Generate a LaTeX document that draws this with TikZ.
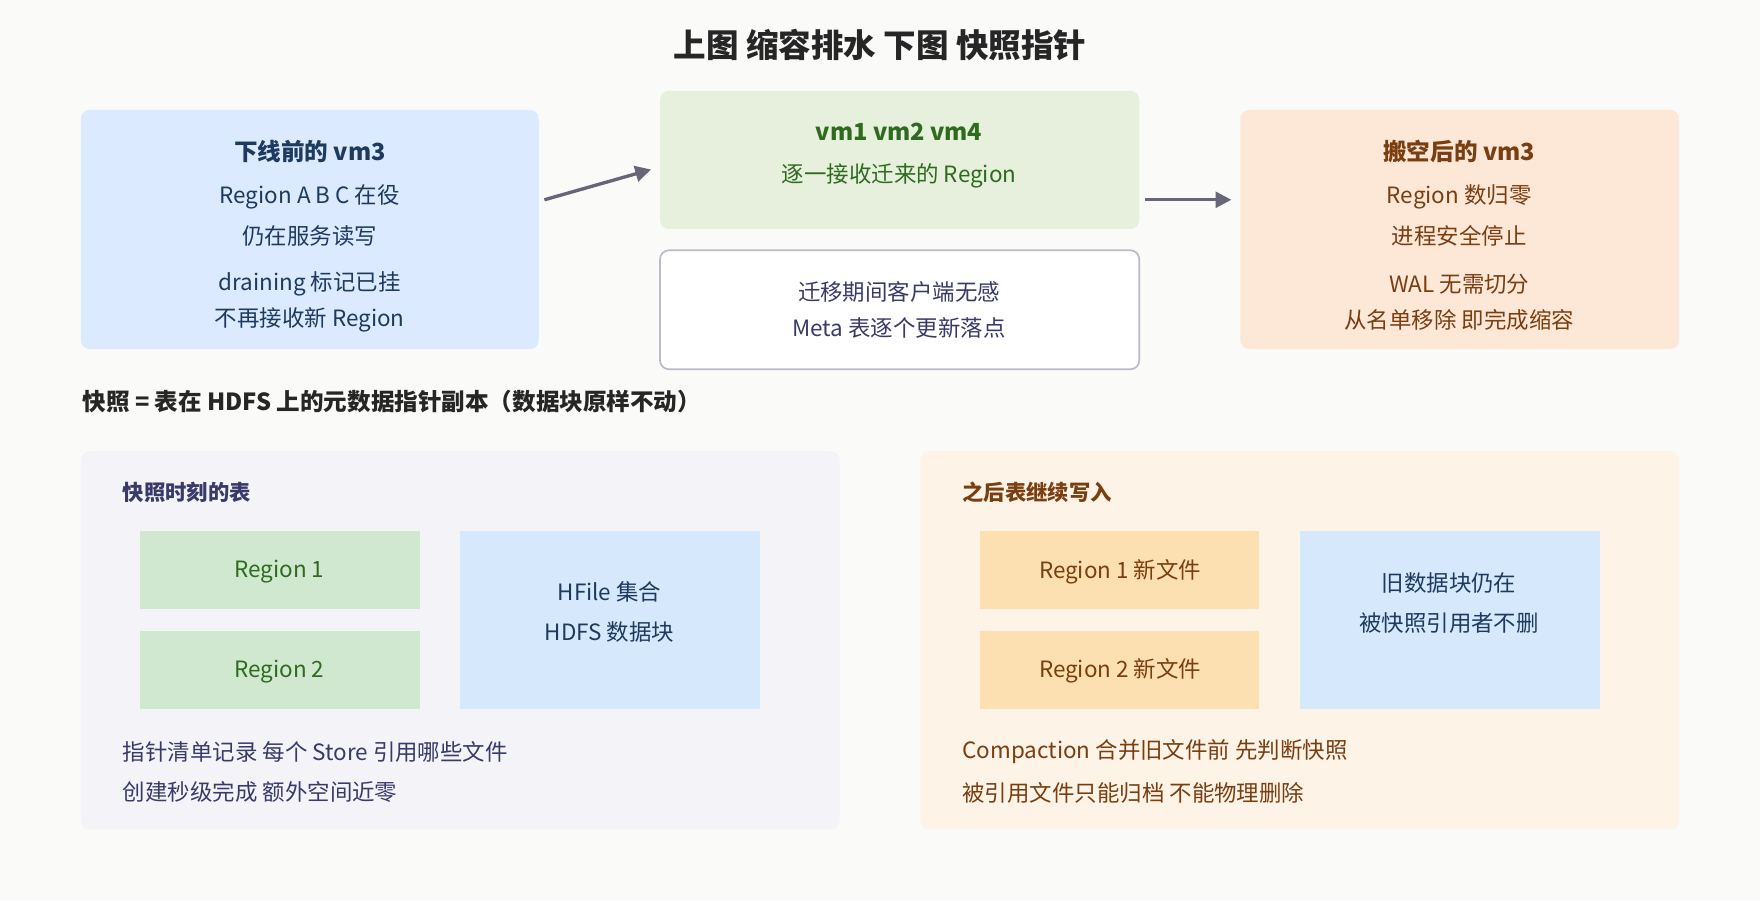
\documentclass[tikz,border=0pt]{standalone}
\usepackage{fontspec}
\setmainfont{Noto Sans CJK SC}
\usetikzlibrary{arrows.meta}
\definecolor{bg}{HTML}{FAFAF8}
\definecolor{bluef}{HTML}{DBEAFE}
\definecolor{greenf}{HTML}{E6F0DC}
\definecolor{orangef}{HTML}{FDE8D7}
\definecolor{navy}{HTML}{1E3A5F}
\definecolor{gtxt}{HTML}{2E6B1E}
\definecolor{btxt}{HTML}{7A3E10}
\definecolor{ptxt}{HTML}{3A3A6A}
\definecolor{panelL}{HTML}{F3F3F8}
\definecolor{panelR}{HTML}{FDF3E6}
\definecolor{regG}{HTML}{CFE8CF}
\definecolor{regO}{HTML}{FDE0B2}
\definecolor{hblue}{HTML}{D6E8FB}
\definecolor{arr}{HTML}{666677}
\begin{document}
\begin{tikzpicture}[x=1pt,y=-1pt,
  box/.style={rounded corners=8pt},
  t/.style={font=\fontsize{20}{24}\selectfont},
  tb/.style={font=\fontsize{21}{24}\selectfont\bfseries},
  ar/.style={draw=arr,line width=3pt,-{Triangle[length=14pt,width=14pt]}}]
\fill[bg] (0,0) rectangle (1568,802);
\useasboundingbox (0,0) rectangle (1568,802);
\node[font=\fontsize{29}{32}\selectfont\bfseries,text=black!85] (title) at (784,40) {上图 缩容排水 下图 快照指针};
% top boxes
\fill[bluef,box] (72,98) rectangle (480,311);
\node[coordinate] (b1e) at (485,178) {};
\node[tb,text=navy] (b1t) at (276,135) {下线前的 vm3};
\node[t,text=navy] (b1a) at (276,175) {Region A B C 在役};
\node[t,text=navy] (b1b) at (276,210) {仍在服务读写};
\node[t,text=navy] (b1c) at (276,253) {draining 标记已挂};
\node[t,text=navy] (b1d) at (276,285) {不再接收新 Region};
\fill[greenf,box] (588,81) rectangle (1015,204);
\node[coordinate] (b2w) at (580,151) {};
\node[coordinate] (b2e) at (1020,178) {};
\node[tb,text=gtxt] (b2t) at (801,117) {vm1 vm2 vm4};
\node[t,text=gtxt] (b2a) at (801,157) {逐一接收迁来的 Region};
\draw[draw=ptxt!35,fill=white,line width=1.5pt,box] (588,223) rectangle (1015,329);
\node[t,text=ptxt] (b3a) at (801,260) {迁移期间客户端无感};
\node[t,text=ptxt] (b3b) at (801,292) {Meta 表逐个更新落点};
\fill[orangef,box] (1105,98) rectangle (1496,311);
\node[coordinate] (b4w) at (1097,178) {};
\node[tb,text=btxt] (b4t) at (1300,135) {搬空后的 vm3};
\node[t,text=btxt] (b4a) at (1300,175) {Region 数归零};
\node[t,text=btxt] (b4b) at (1300,210) {进程安全停止};
\node[t,text=btxt] (b4c) at (1300,253) {WAL 无需切分};
\node[t,text=btxt] (b4d) at (1300,285) {从名单移除 即完成缩容};
\draw[ar] (b1e) -- (b2w);
\draw[ar] (b2e) -- (b4w);
% heading
\node[tb,anchor=west,text=black!85] (head) at (70,358) {快照 = 表在 HDFS 上的元数据指针副本（数据块原样不动）};
% left panel
\fill[panelL,box] (72,402) rectangle (748,739);
\node[font=\fontsize{19}{22}\selectfont\bfseries,text=ptxt,anchor=west] (lt) at (106,439) {快照时刻的表};
\fill[regG] (125,473) rectangle (374,543);
\node[t,text=gtxt] (r1) at (249,509) {Region 1};
\fill[regG] (125,562) rectangle (374,632);
\node[t,text=gtxt] (r2) at (249,598) {Region 2};
\fill[hblue] (410,473) rectangle (677,632);
\node[t,text=navy] (h1) at (543,527) {HFile 集合};
\node[t,text=navy] (h2) at (543,563) {HDFS 数据块};
\node[t,text=ptxt,anchor=west] (l1) at (106,670) {指针清单记录 每个 Store 引用哪些文件};
\node[t,text=ptxt,anchor=west] (l2) at (106,706) {创建秒级完成 额外空间近零};
% right panel
\fill[panelR,box] (820,402) rectangle (1496,739);
\node[font=\fontsize{19}{22}\selectfont\bfseries,text=btxt,anchor=west] (rt) at (854,439) {之后表继续写入};
\fill[regO] (873,473) rectangle (1122,543);
\node[t,text=btxt] (o1) at (998,509) {Region 1 新文件};
\fill[regO] (873,562) rectangle (1122,632);
\node[t,text=btxt] (o2) at (998,598) {Region 2 新文件};
\fill[hblue] (1158,473) rectangle (1425,632);
\node[t,text=navy] (k1) at (1291,519) {旧数据块仍在};
\node[t,text=navy] (k2) at (1291,555) {被快照引用者不删};
\node[t,text=btxt,anchor=west] (m1) at (854,670) {Compaction 合并旧文件前 先判断快照};
\node[t,text=btxt,anchor=west] (m2) at (854,706) {被引用文件只能归档 不能物理删除};
\end{tikzpicture}
\end{document}
